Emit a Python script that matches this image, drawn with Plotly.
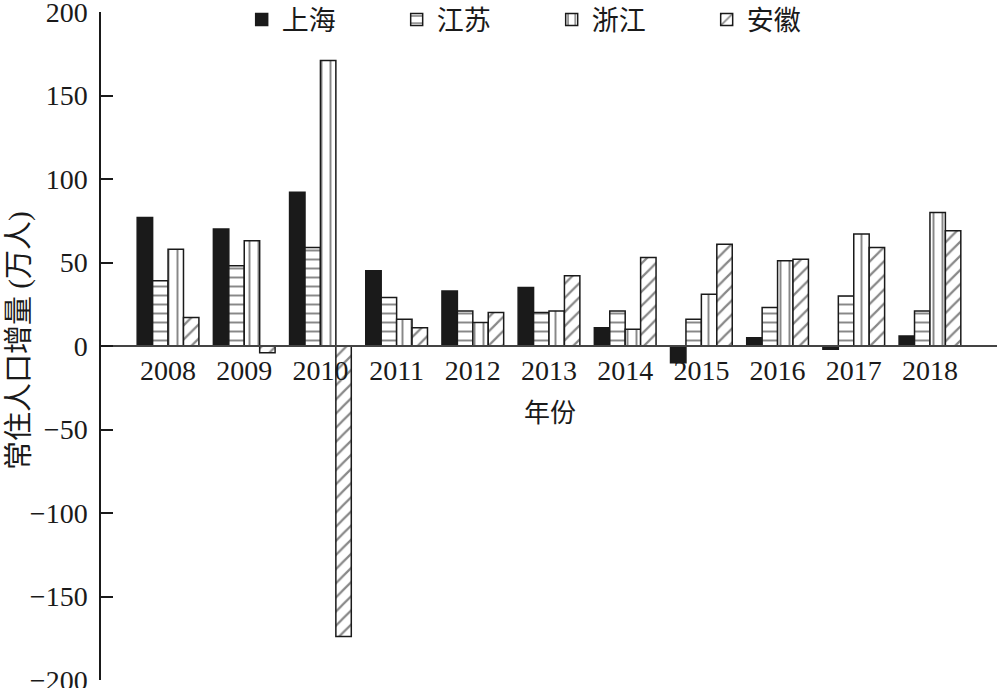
import plotly.graph_objects as go

years = ["2008", "2009", "2010", "2011", "2012", "2013", "2014", "2015", "2016", "2017", "2018"]
shanghai = [77, 70, 92, 45, 33, 35, 11, -10, 5, -2, 6]
jiangsu = [39, 48, 59, 29, 21, 20, 21, 16, 23, 30, 21]
zhejiang = [58, 63, 171, 16, 14, 21, 10, 31, 51, 67, 80]
anhui = [17, -4, -174, 11, 20, 42, 53, 61, 52, 59, 69]

series = [
    ("上海", shanghai, dict(color="#1a1a1a")),
    ("江苏", jiangsu, dict(color="white", pattern=dict(shape="-", fgcolor="#111", bgcolor="white", size=9, solidity=0.22, fillmode="overlay"))),
    ("浙江", zhejiang, dict(color="white", pattern=dict(shape="|", fgcolor="#111", bgcolor="white", size=9, solidity=0.22, fillmode="overlay"))),
    ("安徽", anhui, dict(color="white", pattern=dict(shape="/", fgcolor="#111", bgcolor="white", size=10, solidity=0.22, fillmode="overlay"))),
]

FONT = "Liberation Serif, Times New Roman, Noto Sans CJK SC, serif"

fig = go.Figure()
for name, vals, mk in series:
    mk = dict(mk)
    mk["line"] = dict(color="#1a1a1a", width=1.5)
    fig.add_trace(go.Bar(name=name, x=years, y=vals, marker=mk))

fig.update_layout(
    width=1000, height=688,
    margin=dict(l=101, r=3, t=12, b=8, autoexpand=False),
    paper_bgcolor="white", plot_bgcolor="white",
    barmode="group", bargap=0.19, bargroupgap=0,
    font=dict(family=FONT, size=27, color="#1a1a1a"),
    showlegend=True,
    legend=dict(orientation="h", x=0.157, y=0.988, xanchor="left", yanchor="middle",
                entrywidth=110, entrywidthmode="pixels",
                font=dict(family=FONT, size=27, color="#1a1a1a"),
                bgcolor="rgba(0,0,0,0)", tracegroupgap=0),
    xaxis=dict(type="category", range=[-0.88, 10.88], anchor="free", position=0.5,
               showline=True, linecolor="#444", linewidth=1.5, automargin=False,
               ticks="", showgrid=False, zeroline=False,
               tickfont=dict(family=FONT, size=28, color="#1a1a1a")),
    yaxis=dict(range=[-200, 200], dtick=50, showline=True, linecolor="#1a1a1a", linewidth=1.5,
               ticks="inside", ticklen=12, tickwidth=1.5, tickcolor="#1a1a1a", automargin=False,
               showgrid=False, zeroline=False, ticklabelstandoff=6, ticklabeloverflow="allow",
               tickfont=dict(family=FONT, size=28, color="#1a1a1a")),
    annotations=[
        dict(text="常住人口增量 (万人)", textangle=-90, xref="paper", yref="paper",
             x=-0.0904, y=0.5075, xanchor="center", yanchor="middle", showarrow=False,
             font=dict(family=FONT, size=29, color="#1a1a1a")),
        dict(text="年份", xref="paper", yref="paper", x=0.501, y=0.3997,
             xanchor="center", yanchor="middle", showarrow=False,
             font=dict(family=FONT, size=26, color="#1a1a1a")),
    ],
)

fig.write_html("out.html", config={"displayModeBar": False},
               post_script="document.body.style.margin='0px';")
